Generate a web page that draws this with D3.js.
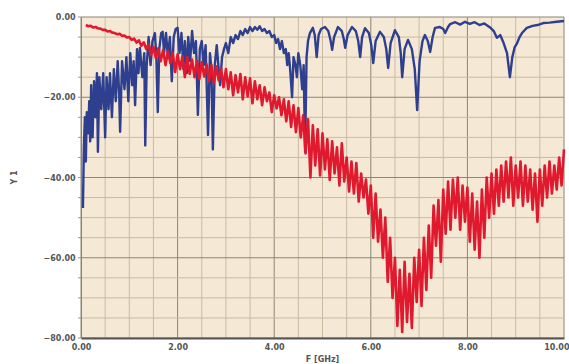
<!DOCTYPE html>
<html>
<head>
<meta charset="utf-8">
<script src="https://cdn.jsdelivr.net/npm/d3@7"></script>
<style>
  body { margin: 0; background: #fff; }
  svg { display: block; }
  .tick-label { font-family: "DejaVu Sans", sans-serif; font-size: 8px; font-weight: bold; fill: #555; }
</style>
</head>
<body>
<div id="chart"></div>
<script>
// tick labels
const xTicks = [0, 2, 4, 6, 8, 10];
const yTicks = [0, -20, -40, -60, -80];

// blue trace [GHz, value]
const blueTrace = [
  [0.04,-47.6],[0.06,-32],[0.08,-25],[0.10,-36],[0.12,-23.7],[0.15,-29],[0.17,-21],[0.19,-31],
  [0.21,-17],[0.24,-30],[0.27,-16],[0.30,-25],[0.33,-14],[0.35,-33.6],[0.38,-15],[0.42,-23],
  [0.46,-14],[0.50,-30],[0.53,-15],[0.57,-23],[0.60,-14],[0.64,-25],[0.68,-13],[0.72,-21],
  [0.76,-11],[0.79,-19],[0.81,-28.6],[0.85,-11],[0.90,-18],[0.94,-10],[0.98,-21],[1.02,-9],
  [1.06,-17],[1.09,-11],[1.12,-22],[1.16,-8],[1.19,-14],[1.22,-7.7],[1.27,-15],[1.31,-9],
  [1.33,-32],[1.36,-12],[1.40,-5],[1.44,-12],[1.48,-6],[1.53,-4],[1.56,-10],[1.59,-23.7],
  [1.62,-8],[1.66,-4],[1.69,-3.7],[1.72,-9],[1.76,-4],[1.80,-10],[1.84,-5],[1.88,-16],
  [1.92,-5],[1.96,-3],[2.00,-2.7],[2.04,-9],[2.08,-4],[2.12,-13],[2.15,-6],[2.19,-14],
  [2.22,-5],[2.26,-11],[2.30,-3.5],[2.34,-9],[2.38,-6],[2.42,-24.4],[2.46,-8],[2.50,-6],
  [2.54,-12],[2.58,-7],[2.63,-29.4],[2.67,-9],[2.70,-13],[2.73,-33],[2.77,-12],[2.81,-7],
  [2.85,-13],[2.88,-17],[2.92,-10],[2.96,-8],[3.00,-6.5],[3.05,-9],[3.10,-5],[3.15,-6.5],
  [3.20,-4.5],[3.25,-5.5],[3.30,-3.5],[3.35,-4.5],[3.40,-3],[3.45,-4],[3.50,-2.5],[3.55,-3.5],
  [3.60,-2.5],[3.65,-3.2],[3.70,-2.3],[3.75,-3.5],[3.80,-3],[3.85,-4],[3.90,-3.5],[3.95,-5],
  [4.00,-4.5],[4.04,-6.5],[4.08,-5.5],[4.12,-8],[4.16,-6],[4.20,-9],[4.24,-8],[4.27,-12],
  [4.30,-9],[4.33,-13],[4.37,-20],[4.40,-10],[4.44,-12],[4.47,-15],[4.50,-9],[4.54,-12],
  [4.58,-18],[4.61,-12],[4.64,-33.6],[4.67,-10],[4.70,-6],[4.74,-4],[4.80,-2.7],[4.84,-4.5],
  [4.88,-10],[4.92,-4.5],[4.97,-3],[5.05,-2.5],[5.12,-3.5],[5.17,-6],[5.20,-8.2],[5.24,-5],
  [5.32,-2.5],[5.40,-3.5],[5.44,-5.5],[5.47,-7.7],[5.52,-4.5],[5.61,-2.5],[5.69,-3.5],[5.74,-6],
  [5.78,-10],[5.82,-5],[5.88,-2.8],[5.96,-4],[6.01,-7],[6.05,-11.5],[6.10,-6],[6.19,-3.7],
  [6.27,-5],[6.32,-8],[6.36,-12.7],[6.41,-6.5],[6.50,-3.3],[6.58,-5],[6.62,-9],[6.65,-15],
  [6.70,-8],[6.77,-5.7],[6.85,-8],[6.91,-13],[6.96,-23.2],[7.01,-11],[7.07,-6],[7.12,-4.5],
  [7.18,-6],[7.23,-8.7],[7.28,-5],[7.33,-2.7],[7.43,-2.5],[7.50,-3],[7.54,-4],[7.60,-2.5],
  [7.64,-1.8],[7.75,-1.3],[7.85,-1.9],[7.95,-1.2],[8.05,-1.7],[8.15,-1.3],[8.25,-2],[8.35,-1.6],
  [8.47,-2.6],[8.55,-3.6],[8.61,-5.2],[8.68,-4.5],[8.75,-6.5],[8.82,-9],[8.88,-15],[8.93,-10],
  [8.98,-7.5],[9.03,-6.5],[9.08,-5],[9.13,-4],[9.23,-2.7],[9.35,-2.2],[9.45,-2],[9.57,-1.5],
  [9.70,-1.4],[9.85,-1.2],[10.0,-1.0]
];

// red trace [GHz, value]
const redTrace = [
  [0.10,-2.0],[0.15,-2.3],[0.20,-2.2],[0.25,-2.6],[0.30,-2.5],[0.35,-2.8],[0.40,-2.9],[0.45,-3.2],
  [0.50,-3.2],[0.55,-3.6],[0.60,-3.5],[0.65,-3.9],[0.70,-4.0],[0.75,-4.3],[0.80,-4.2],[0.85,-4.7],
  [0.90,-4.6],[0.95,-5.1],[1.00,-5.0],[1.05,-5.7],[1.10,-5.4],[1.15,-6.4],[1.20,-5.8],[1.25,-7.2],
  [1.30,-6.3],[1.35,-8.0],[1.40,-6.8],[1.45,-9.5],[1.50,-7.5],[1.55,-10.2],[1.60,-7.8],[1.65,-11.0],
  [1.70,-8.2],[1.75,-12.0],[1.80,-8.6],[1.85,-11.5],[1.90,-9.0],[1.95,-13.7],[2.00,-9.3],[2.05,-13.0],
  [2.10,-9.8],[2.15,-15.0],[2.20,-10.0],[2.25,-14.2],[2.30,-10.6],[2.35,-15.0],[2.40,-11.0],[2.45,-15.5],
  [2.50,-11.2],[2.55,-14.8],[2.60,-11.8],[2.65,-16.0],[2.70,-12.0],[2.75,-16.5],[2.80,-12.3],[2.85,-15.8],
  [2.90,-12.8],[2.95,-17.5],[3.00,-13.0],[3.05,-18.0],[3.10,-13.8],[3.15,-19.5],[3.20,-14.5],[3.25,-18.8],
  [3.30,-14.2],[3.35,-20.5],[3.40,-15.0],[3.45,-19.8],[3.50,-15.3],[3.55,-21.5],[3.60,-16.0],[3.65,-20.5],
  [3.70,-17.0],[3.75,-22.0],[3.80,-17.5],[3.85,-21.0],[3.90,-18.8],[3.95,-23.7],[4.00,-19.5],[4.05,-22.8],
  [4.10,-20.0],[4.15,-24.5],[4.20,-20.5],[4.25,-26.0],[4.30,-21.0],[4.35,-27.4],[4.40,-22.0],[4.45,-28.7],
  [4.50,-22.7],[4.55,-30.0],[4.60,-24.5],[4.65,-34.0],[4.70,-25.5],[4.75,-40.0],[4.80,-27.0],[4.85,-37.0],
  [4.90,-28.0],[4.95,-39.5],[5.00,-29.0],[5.05,-38.0],[5.10,-30.5],[5.15,-40.6],[5.20,-31.0],[5.25,-39.0],
  [5.30,-32.5],[5.35,-42.0],[5.40,-31.5],[5.45,-41.0],[5.50,-35.0],[5.55,-43.5],[5.60,-36.0],[5.65,-44.0],
  [5.70,-36.4],[5.75,-46.0],[5.80,-39.0],[5.85,-45.0],[5.90,-40.5],[5.95,-49.0],[6.00,-42.0],[6.05,-55.0],
  [6.10,-44.0],[6.15,-56.0],[6.20,-48.0],[6.25,-60.0],[6.30,-50.0],[6.35,-66.0],[6.40,-55.0],[6.45,-70.0],
  [6.50,-60.0],[6.55,-77.0],[6.60,-63.0],[6.65,-78.5],[6.70,-61.0],[6.75,-76.0],[6.80,-64.0],[6.85,-77.5],
  [6.90,-60.0],[6.95,-71.0],[7.00,-58.0],[7.05,-72.0],[7.10,-55.0],[7.15,-68.0],[7.20,-52.0],[7.25,-65.0],
  [7.30,-47.0],[7.35,-57.0],[7.40,-45.6],[7.45,-61.0],[7.50,-43.0],[7.55,-54.0],[7.60,-41.0],[7.65,-53.0],
  [7.70,-40.5],[7.75,-50.0],[7.80,-40.0],[7.85,-53.0],[7.90,-42.0],[7.95,-51.0],[8.00,-42.5],[8.05,-56.0],
  [8.10,-44.0],[8.15,-58.0],[8.20,-46.0],[8.25,-60.0],[8.30,-43.0],[8.35,-55.0],[8.40,-40.0],[8.45,-50.0],
  [8.50,-39.0],[8.55,-49.0],[8.60,-38.0],[8.65,-47.0],[8.70,-37.0],[8.75,-46.0],[8.80,-36.0],[8.85,-45.0],
  [8.90,-35.0],[8.95,-47.0],[9.00,-37.0],[9.05,-45.0],[9.10,-36.0],[9.15,-47.0],[9.20,-37.0],[9.25,-46.0],
  [9.30,-38.0],[9.35,-48.0],[9.40,-39.0],[9.45,-51.0],[9.50,-38.0],[9.55,-47.0],[9.60,-37.0],[9.65,-45.0],
  [9.70,-36.0],[9.75,-44.0],[9.80,-37.0],[9.85,-43.0],[9.90,-35.0],[9.95,-42.0],[10.00,-33.0]
];

const width = 569, height = 364;
const margin = {top: 17, right: 5, bottom: 26, left: 81};

const svg = d3.select('#chart').append('svg')
  .attr('width', width)
  .attr('height', height);

const x = d3.scaleLinear().domain([0, 10]).range([margin.left, width - margin.right]);
const y = d3.scaleLinear().domain([-80, 0]).range([height - margin.bottom, margin.top]);

// plot background
svg.append('rect')
  .attr('x', x(0)).attr('y', y(0))
  .attr('width', x(10) - x(0)).attr('height', y(-80) - y(0))
  .attr('fill', '#f5e9d5');

// grid
const grid = svg.append('g');
grid.selectAll('.vminor')
  .data(d3.range(0, 10.01, 0.5))
  .join('line')
  .attr('x1', d => x(d)).attr('x2', d => x(d))
  .attr('y1', y(0)).attr('y2', y(-80))
  .attr('stroke', d => d % 2 === 0 ? '#8d8472' : '#c9bba2')
  .attr('stroke-width', 1);
grid.selectAll('.hminor')
  .data(d3.range(-80, 0.01, 5))
  .join('line')
  .attr('x1', x(0)).attr('x2', x(10))
  .attr('y1', d => y(d)).attr('y2', d => y(d))
  .attr('stroke', d => d % 20 === 0 ? '#8d8472' : '#c9bba2')
  .attr('stroke-width', 1);

// axes
const xAxis = d3.axisBottom(x).tickValues(xTicks).tickSize(0).tickFormat(d3.format('.2f'));
const yAxis = d3.axisLeft(y).tickValues(yTicks).tickSize(0).tickFormat(d3.format('.2f'));

const gx = svg.append('g')
  .attr('transform', `translate(0,${y(-80)})`)
  .call(xAxis);
gx.select('.domain').attr('stroke', '#555').attr('stroke-width', 2);
gx.selectAll('text').attr('class', 'tick-label').attr('dy', '1.1em');
// last label kept inside the window
gx.selectAll('.tick').filter(d => d === 10).select('text')
  .attr('text-anchor', 'end').attr('x', width - x(10));

const gy = svg.append('g')
  .attr('transform', `translate(${x(0)},0)`)
  .call(yAxis);
gy.select('.domain').attr('stroke', '#8d8472').attr('stroke-width', 1);
gy.selectAll('text').attr('class', 'tick-label').attr('dx', '-0.3em').attr('dy', '0.32em');

// small ticks outside the left axis
svg.append('g').selectAll('line')
  .data(d3.range(-80, 0.01, 5))
  .join('line')
  .attr('x1', x(0) - 3).attr('x2', x(0))
  .attr('y1', d => y(d)).attr('y2', d => y(d))
  .attr('stroke', '#999');

// traces
const line = d3.line()
  .x(d => x(d[0]))
  .y(d => y(d[1]));

svg.append('path')
  .datum(blueTrace)
  .attr('d', line)
  .attr('fill', 'none')
  .attr('stroke', '#2f3f8f')
  .attr('stroke-width', 2.4)
  .attr('stroke-linejoin', 'round');

svg.append('path')
  .datum(redTrace)
  .attr('d', line)
  .attr('fill', 'none')
  .attr('stroke', '#e1192e')
  .attr('stroke-width', 2.6)
  .attr('stroke-linejoin', 'round');

// axis titles
svg.append('text')
  .attr('transform', `translate(17,${(y(0) + y(-80)) / 2}) rotate(-90)`)
  .attr('text-anchor', 'middle')
  .attr('class', 'tick-label')
  .attr('font-size', 9)
  .text('Y 1');

svg.append('text')
  .attr('x', (x(0) + x(10)) / 2)
  .attr('y', 362)
  .attr('text-anchor', 'middle')
  .attr('class', 'tick-label')
  .text('F [GHz]');
</script>
</body>
</html>
